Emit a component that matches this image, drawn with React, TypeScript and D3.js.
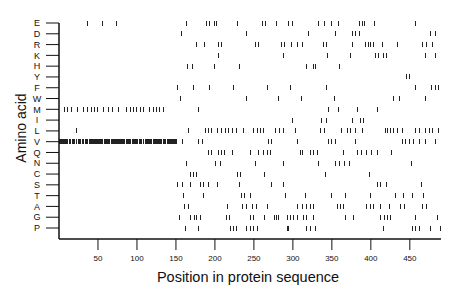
import * as d3 from 'd3'

// amino acids, top to bottom
const residues = ['E', 'D', 'R', 'K', 'H', 'Y', 'F', 'W', 'M', 'I', 'L', 'V', 'Q', 'N', 'C', 'S', 'T', 'A', 'G', 'P']

const xTicks = [50, 100, 150, 200, 250, 300, 350, 400, 450]

// positions of each residue in the sequence
const posE = [37, 56, 74, 163, 189, 193, 199, 202, 229, 261, 265, 279, 295, 299, 333, 341, 350, 359, 385, 389, 392, 405, 457]
const posD = [157, 241, 320, 355, 376, 380, 385, 477, 483]
const posR = [176, 187, 205, 209, 252, 256, 285, 289, 298, 306, 312, 339, 343, 377, 393, 397, 400, 403, 415, 434, 466, 472, 479]
const posK = [205, 288, 344, 374, 406, 410, 416, 420, 470, 483]
const posH = [165, 171, 200, 231, 318, 326, 329, 360]
const posY = [446, 449]
const posF = [152, 173, 193, 224, 268, 297, 343, 457, 478, 483, 487]
const posW = [156, 240, 282, 311, 354, 429, 437, 470]
const posM = [7, 11, 16, 24, 31, 37, 42, 46, 50, 57, 63, 69, 76, 86, 92, 96, 100, 104, 109, 116, 121, 125, 129, 134, 179, 346, 359, 383, 409]
const posI = [299, 337, 343, 376, 387, 391]
const posL = [23, 166, 188, 192, 196, 203, 209, 214, 217, 223, 228, 237, 249, 254, 258, 262, 278, 283, 288, 304, 335, 340, 362, 370, 374, 380, 389, 419, 422, 425, 429, 434, 440, 457, 462, 470, 475, 479, 487]
const posV = [
  1, 2, 3, 5, 6, 7, 8, 10, 11, 13, 14, 15, 17, 18, 19, 20, 22, 23, 25, 26, 27, 28, 30, 31, 32, 34, 35, 36,
  37, 39, 40, 42, 43, 44, 45, 46, 47, 48, 49, 50, 51, 52, 53, 54, 55, 56, 58, 59, 60, 61, 62, 63, 64, 65,
  67, 68, 70, 71, 72, 74, 75, 76, 77, 79, 80, 82, 83, 84, 86, 87, 88, 89, 91, 92, 94, 95, 96, 97, 98, 100,
  101, 103, 104, 105, 106, 108, 109, 111, 112, 113, 115, 116, 117, 118, 119, 121, 122, 124, 125, 126, 128,
  129, 130, 131, 132, 134, 135, 136, 137, 139, 140, 141, 142, 143, 144, 145, 146, 147, 148, 149, 151,
  158, 179, 184, 269, 273, 306, 346, 350, 355, 380, 440, 445, 449, 455, 462, 470, 483,
]
const posQ = [192, 196, 205, 208, 212, 222, 246, 256, 262, 267, 271, 310, 312, 323, 327, 331, 365, 383, 388, 394, 401, 408, 426]
const posN = [164, 201, 207, 252, 288, 333, 355, 360, 366, 372, 452]
const posC = [169, 173, 176, 229, 233, 263, 342, 398]
const posS = [152, 158, 169, 181, 185, 192, 203, 232, 273, 288, 409, 413, 420, 465]
const posT = [160, 185, 234, 238, 246, 291, 316, 350, 368, 400, 432, 442, 453, 468]
const posA = [161, 166, 216, 236, 241, 248, 253, 267, 306, 312, 318, 322, 326, 357, 361, 365, 395, 400, 404, 412, 424, 438, 443, 466, 472]
const posG = [154, 169, 174, 177, 181, 215, 219, 246, 250, 263, 276, 279, 282, 293, 297, 301, 306, 313, 317, 326, 368, 378, 413, 418, 422, 425, 457, 486]
const posP = [162, 179, 220, 224, 228, 241, 246, 250, 254, 293, 295, 318, 323, 329, 416, 453, 457, 462, 477, 489]

const positions: Record<string, number[]> = {
  E: posE, D: posD, R: posR, K: posK, H: posH, Y: posY, F: posF, W: posW, M: posM, I: posI,
  L: posL, V: posV, Q: posQ, N: posN, C: posC, S: posS, T: posT, A: posA, G: posG, P: posP,
}

const font = 'Liberation Sans, Arial, Helvetica, sans-serif'

export default function App() {
  const width = 460
  const height = 299
  const left = 59
  const right = 441
  const axisY = 239

  const x = d3.scaleLinear().domain([0, 490]).range([left, right])
  const y = d3.scalePoint<string>().domain(residues).range([23, 228])

  return (
    <svg
      width={width}
      height={height}
      style={{ position: 'absolute', left: 0, top: 0, background: '#fff' }}
      fontFamily={font}
    >
      {/* marks */}
      {residues.map((r) =>
        positions[r].map((p, i) => (
          <line
            key={r + i}
            x1={x(p)}
            x2={x(p)}
            y1={(y(r) ?? 0) - 2.5}
            y2={(y(r) ?? 0) + 2.5}
            stroke="#222"
            strokeWidth={1}
            shapeRendering="crispEdges"
          />
        )),
      )}

      {/* y axis */}
      <line x1={left} x2={left} y1={y('E')} y2={axisY} stroke="#111" strokeWidth={1.5} />
      {residues.map((r) => (
        <g key={r}>
          <line x1={left - 13} x2={left} y1={y(r)} y2={y(r)} stroke="#111" strokeWidth={1} />
          <text x={37} y={(y(r) ?? 0) + 3.2} textAnchor="middle" fontSize={9} fill="#111">
            {r}
          </text>
        </g>
      ))}
      <text
        transform={`translate(26,${128}) rotate(-90)`}
        textAnchor="middle"
        fontSize={14}
        fill="#111"
      >
        Amino acid
      </text>

      {/* x axis */}
      <line x1={left} x2={right} y1={axisY} y2={axisY} stroke="#111" strokeWidth={1.5} />
      {xTicks.map((t) => (
        <g key={t}>
          <line x1={x(t)} x2={x(t)} y1={axisY} y2={axisY + 11} stroke="#111" strokeWidth={1} />
          <text x={x(t)} y={axisY + 22} textAnchor="middle" fontSize={8} fill="#111">
            {t}
          </text>
        </g>
      ))}
      <text x={248} y={282} textAnchor="middle" fontSize={14.5} fill="#111">
        Position in protein sequence
      </text>
    </svg>
  )
}
